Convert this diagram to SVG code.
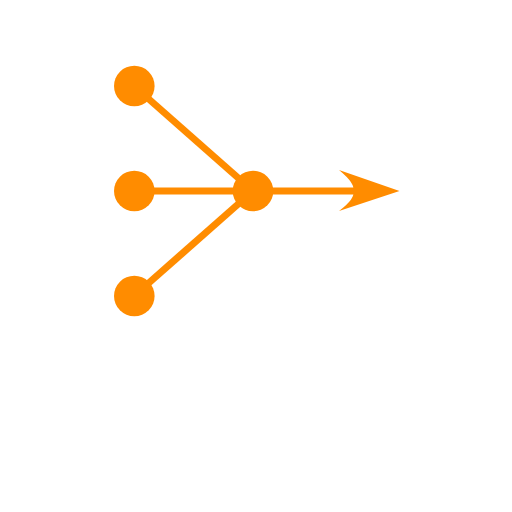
<svg xmlns="http://www.w3.org/2000/svg" width="512" height="512" viewBox="0 0 512 512">
<style>
.n{fill:#FF8C00}
.c{stroke:#FF8C00;stroke-width:7;fill:none}
</style>
<rect width="512" height="512" fill="#fff"/>
<g id="connectors">
<line class="c" x1="134" y1="86" x2="253" y2="191"/>
<line class="c" x1="134" y1="191" x2="253" y2="191"/>
<line class="c" x1="134" y1="296" x2="253" y2="191"/>
<line class="c" x1="253" y1="191" x2="355" y2="191"/>
<path class="n" d="M399.5,191 L339,170 Q356,184 353,191 Q356,198 339,211 Z"/>
</g>
<g id="n1"><circle class="n" cx="134.3" cy="86" r="20.3"/></g>
<g id="n2"><circle class="n" cx="134.3" cy="191" r="20.3"/></g>
<g id="n3"><circle class="n" cx="134.3" cy="296" r="20.3"/></g>
<g id="hub"><circle class="n" cx="253" cy="191" r="20.3"/></g>
</svg>
